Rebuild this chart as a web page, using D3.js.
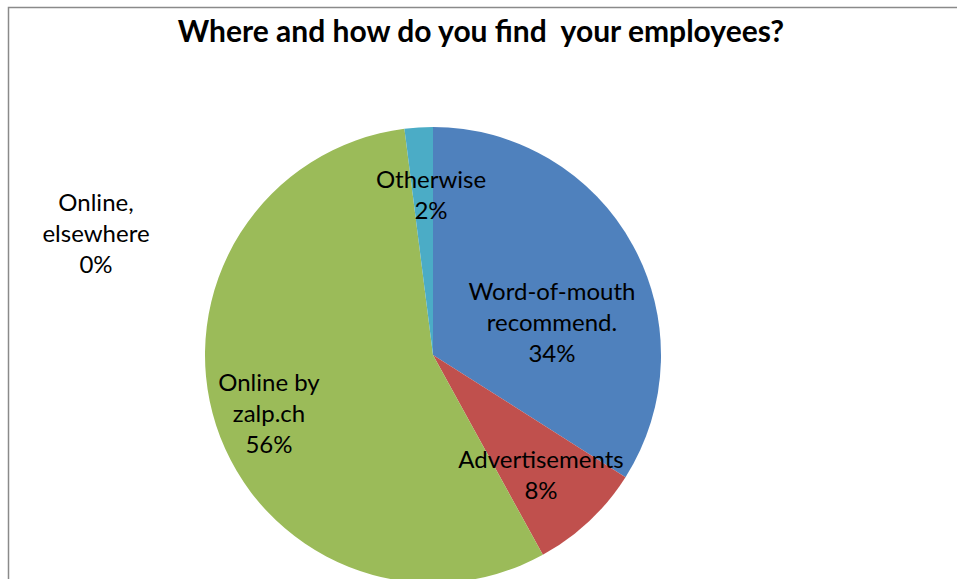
<!DOCTYPE html>
<html><head><meta charset="utf-8">
<script src="https://cdn.jsdelivr.net/npm/d3@7"></script>
<style>body{margin:0;background:#fff}svg{display:block}</style>
</head><body>
<script>
const title = "Where and how do you find  your employees?";
const categories = ["Word-of-mouth recommend.", "Advertisements", "Online by zalp.ch", "Online, elsewhere", "Otherwise"];
const values = [34, 8, 56, 0, 2];
const labelLines = [["Word-of-mouth","recommend.","34%"],["Advertisements","8%"],["Online by","zalp.ch","56%"],["Online,","elsewhere","0%"],["Otherwise","2%"]];
const colors = ["#4F81BD", "#C0504D", "#9BBB59", "#8064A2", "#4BACC6"];

const W = 957, H = 579;
const svg = d3.select("body").append("svg").attr("width", W).attr("height", H);
// chart frame
svg.append("rect").attr("x", 8.5).attr("y", 7.5).attr("width", W + 20).attr("height", H + 20)
  .attr("fill", "none").attr("stroke", "#8a8a8a").attr("stroke-width", 1.5);

svg.append("text").attr("x", 481).attr("y", 42).attr("text-anchor", "middle")
  .style("white-space", "pre")
  .style("font-family", "Lato, 'Open Sans', sans-serif").style("font-weight", "bold").style("font-size", "30px")
  .attr("fill", "#000").text(title);

const cx = 433, cy = 355, r = 228;
const pie = d3.pie().sort(null).value(d => d)(values);
const arc = d3.arc().innerRadius(0).outerRadius(r);
const g = svg.append("g").attr("transform", `translate(${cx},${cy})`);
g.selectAll("path").data(pie).join("path").attr("d", arc).attr("fill", (d, i) => colors[i]);

// label anchor points (layout) relative to pie centre, per slice index
const labelPos = [[119, -32], [108, 120], [-164, 59], [-337, -121], [-2, -160]];
const lineH = 31;
const lg = svg.append("g").style("font-family", "Lato, 'Open Sans', sans-serif").style("font-size", "24px");
labelLines.forEach((lines, i) => {
  const [dx, dy] = labelPos[i];
  const t = lg.append("text").attr("text-anchor", "middle").attr("fill", "#000");
  const y0 = cy + dy - (lines.length - 1) * lineH / 2;
  lines.forEach((s, k) => {
    t.append("tspan").attr("x", cx + dx).attr("y", y0 + k * lineH).attr("dy", "0.35em").text(s);
  });
});
</script>
</body></html>
